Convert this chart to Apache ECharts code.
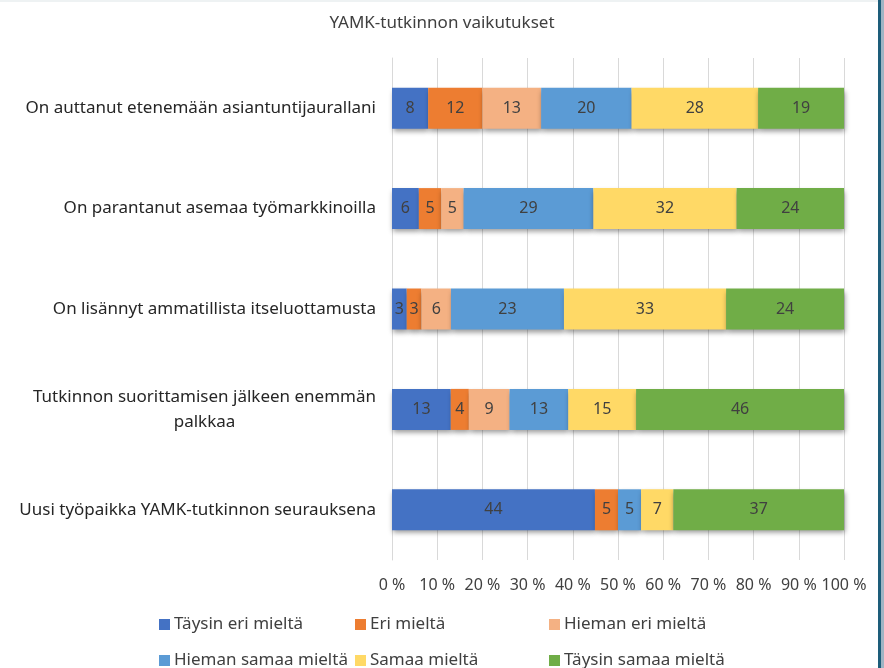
<!DOCTYPE html>
<html>
<head>
<meta charset="utf-8">
<script src="https://cdn.jsdelivr.net/npm/echarts@6/dist/echarts.min.js"></script>
<style>
html, body { margin: 0; padding: 0; background: #fff; }
#main { width: 884px; height: 668px; }
</style>
</head>
<body>
<div id="main"></div>
<script>
// kysymykset (ylhäältä alas)
var categories = [
    'On auttanut etenemään asiantuntijaurallani',
    'On parantanut asemaa työmarkkinoilla',
    'On lisännyt ammatillista itseluottamusta',
    'Tutkinnon suorittamisen jälkeen enemmän\npalkkaa',
    'Uusi työpaikka YAMK-tutkinnon seurauksena'
];
var seriesNames = ['Täysin eri mieltä', 'Eri mieltä', 'Hieman eri mieltä', 'Hieman samaa mieltä', 'Samaa mieltä', 'Täysin samaa mieltä'];
// vastausten lukumäärät, yksi taulukko per vastausvaihtoehto
var taysinEri = [8, 6, 3, 13, 44];
var eri = [12, 5, 3, 4, 5];
var hiemanEri = [13, 5, 6, 9, 0];
var hiemanSamaa = [20, 29, 23, 13, 5];
var samaa = [28, 32, 33, 15, 7];
var taysinSamaa = [19, 24, 24, 46, 37];
var colors = ['#4472C4', '#ED7D31', '#F4B183', '#5B9BD5', '#FFD966', '#70AD47'];

var counts = [taysinEri, eri, hiemanEri, hiemanSamaa, samaa, taysinSamaa];
var totals = categories.map(function (c, i) {
    var s = 0;
    counts.forEach(function (arr) { s += arr[i]; });
    return s;
});

var font = '"Noto Sans", sans-serif';

var series = counts.map(function (arr, k) {
    return {
        name: seriesNames[k],
        type: 'bar',
        stack: 'all',
        barWidth: 41,
        itemStyle: {
            color: colors[k],
            shadowColor: 'rgba(0,0,0,0.4)',
            shadowBlur: 5,
            shadowOffsetX: 1,
            shadowOffsetY: 3
        },
        label: {
            show: true,
            position: 'inside',
            color: '#404040',
            fontFamily: font,
            fontSize: 16,
            formatter: function (p) {
                return arr[p.dataIndex] ? String(arr[p.dataIndex]) : '';
            }
        },
        data: arr.map(function (v, i) { return v / totals[i] * 100; })
    };
});

// legendan paikat: 3 saraketta, 2 riviä
var legendLeft = [159, 355, 549, 159, 355, 549];
var legendTop = [616, 616, 616, 652, 652, 652];
var legends = seriesNames.map(function (n, k) {
    return {
        left: legendLeft[k],
        top: legendTop[k],
        padding: 0,
        itemWidth: 11,
        itemHeight: 11,
        icon: 'rect',
        textStyle: { color: '#404040', fontFamily: font, fontSize: 17, padding: [0, 0, 0, -1] },
        data: [n]
    };
});

var myChart = echarts.init(document.getElementById('main'));
var option = {
    animation: false,
    title: {
        text: 'YAMK-tutkinnon vaikutukset',
        left: 'center',
        top: 10,
        textStyle: { color: '#404040', fontFamily: font, fontSize: 17, fontWeight: 'normal' }
    },
    grid: { left: 392, right: 40, top: 58, bottom: 108 },
    legend: legends,
    xAxis: {
        type: 'value',
        min: 0,
        max: 100,
        interval: 10,
        axisLine: { show: false },
        axisTick: { show: false },
        splitLine: { lineStyle: { color: '#d9d9d9', width: 1 } },
        axisLabel: {
            color: '#404040',
            fontFamily: font,
            fontSize: 16,
            margin: 17,
            formatter: '{value} %'
        }
    },
    yAxis: {
        type: 'category',
        inverse: true,
        data: categories,
        axisLine: { lineStyle: { color: '#d9d9d9' } },
        axisTick: { show: false },
        axisLabel: {
            margin: 16,
            fontFamily: font,
            fontSize: 17,
            color: '#262626',
            formatter: function (v) {
                return v.split('\n').map(function (s) { return '{c|' + s + '}'; }).join('\n');
            },
            rich: {
                c: { align: 'center', fontFamily: font, fontSize: 17, color: '#262626', lineHeight: 25 }
            }
        }
    },
    graphic: [
        { type: 'rect', shape: { x: 878, y: 0, width: 3, height: 668 }, style: { fill: '#1d5d7a' } },
        { type: 'rect', shape: { x: 881, y: 0, width: 3, height: 668 }, style: { fill: '#9fb4c4' } },
        { type: 'rect', shape: { x: 0, y: 0, width: 878, height: 2 }, style: { fill: '#eef2f3' } }
    ],
    series: series
};
myChart.setOption(option, true);
window.onresize = function () {
    myChart.resize();
};
</script>
</body>
</html>
